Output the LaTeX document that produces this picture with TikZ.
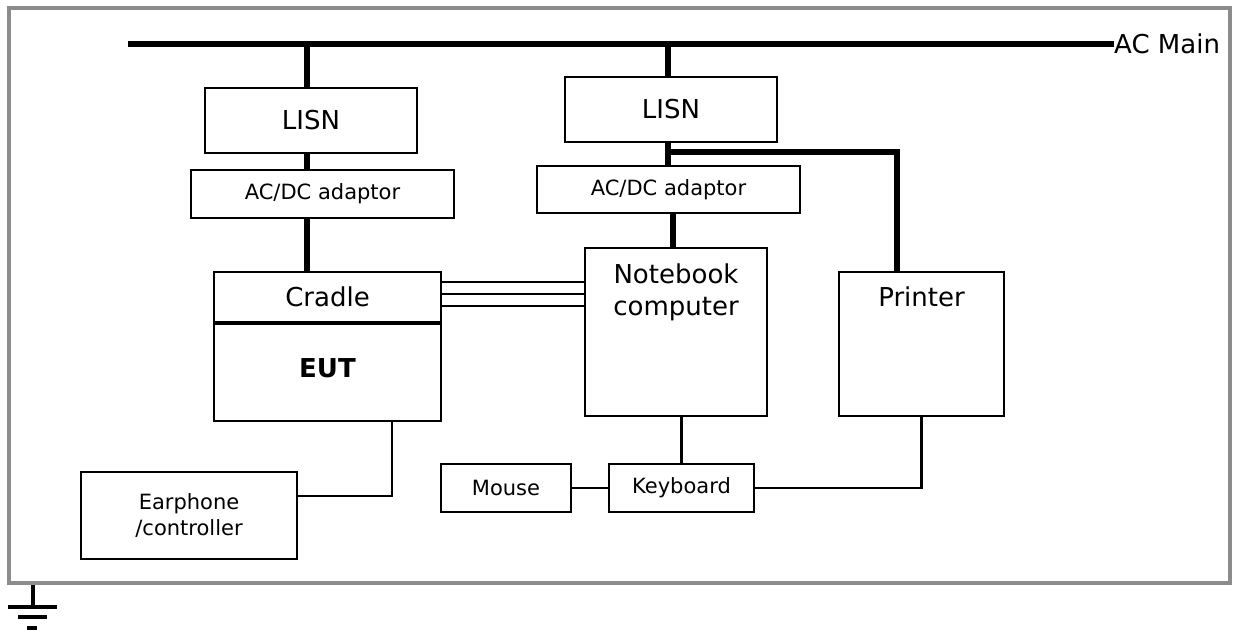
\documentclass[tikz,border=0pt]{standalone}
\usepackage{fontspec}
\setmainfont{DejaVu Sans}
\usetikzlibrary{positioning}
\definecolor{framegray}{RGB}{140,140,140}

\begin{document}
\begin{tikzpicture}[x=1pt, y=-1pt,
	box/.style = {draw, line width=2.2pt, inner sep=0pt, font=\fontsize{26}{32}\selectfont},
	smallbox/.style = {box, font=\fontsize{21}{26}\selectfont},
	lbl/.style = {inner sep=0pt, align=center, anchor=north, font=\fontsize{26}{32}\selectfont},
	power/.style = {line width=5.2pt},
	wire/.style = {line width=2.2pt}]
	\useasboundingbox (0,0) rectangle (1234,631);
	\draw[line width=4.5pt, framegray] (9,8) rectangle (1230,583);

	\node[box, minimum width=212, minimum height=65] (lisnA) at (311,120.5) {LISN};
	\node[smallbox, minimum width=263, minimum height=48] (adaptA) at (322.5,194) {AC/DC adaptor};
	\node[box, minimum width=227, minimum height=50] (cradle) at (327.5,297) {Cradle};
	\node[box, minimum width=227, minimum height=97, anchor=north, text depth=10pt, font=\fontsize{26}{32}\selectfont\bfseries] (eut) at (cradle.south) {EUT};
	\node[box, minimum width=212, minimum height=65] (lisnB) at (671,109.5) {LISN};
	\node[smallbox, minimum width=263, minimum height=47] (adaptB) at (668.5,189.5) {AC/DC adaptor};
	\node[box, minimum width=182, minimum height=168, label={[lbl, yshift=-17pt]north:Notebook\\computer}] (notebook) at (676,332) {};
	\node[box, minimum width=165, minimum height=144, label={[lbl, yshift=-16pt]north:Printer}] (printer) at (921.5,344) {};
	\node[smallbox, minimum width=216, minimum height=87, align=center] (earphone) at (189,515.5) {Earphone\\/controller};
	\node[smallbox, minimum width=130, minimum height=48] (mouse) at (506,488) {Mouse};
	\node[smallbox, minimum width=145, minimum height=48] (keyboard) at (681.5,488) {Keyboard};
	\node[anchor=west, inner sep=0pt, font=\fontsize{26}{32}\selectfont] (acmain) at (1114,44) {AC Main};

	\coordinate (busW) at (128,44);
	\coordinate (feedA) at (307,44);
	\coordinate (feedB) at (668,44);
	\coordinate (feedN) at (673,44);
	\coordinate (feedP) at (897,152);
	\coordinate (earJ) at (392,496);

	\draw[power] (busW) -- (acmain.west);
	\draw[power] (feedA) -- (feedA |- lisnA.north);
	\draw[power] (lisnA.south -| feedA) -- (adaptA.north -| feedA);
	\draw[power] (adaptA.south -| feedA) -- (cradle.north -| feedA);
	\draw[power] (feedB) -- (feedB |- lisnB.north);
	\draw[power] (lisnB.south -| feedB) -- (adaptB.north -| feedB);
	\draw[power] (adaptB.south -| feedN) -- (notebook.north -| feedN);
	\draw[power] (feedB |- feedP) -- (feedP) -- (feedP |- printer.north);

	\foreach \off in {11,23,35} {
		\path ([yshift=-\off pt]cradle.north east) coordinate (d);
		\draw[wire] (d) -- (d -| notebook.west);
	}
	\draw[wire] (eut.south -| earJ) -- (earJ) -- (earJ -| earphone.east);
	\draw[wire] (notebook.south -| keyboard.north) -- (keyboard.north);
	\draw[wire] (mouse.east) -- (keyboard.west);
	\draw[wire] (keyboard.east) -| (printer.south);

	\draw[line width=4pt] (33,585) -- (33,607) (8,607) -- (57,607) (18,617) -- (47,617) (27,628) -- (37,628);
\end{tikzpicture}
\end{document}
